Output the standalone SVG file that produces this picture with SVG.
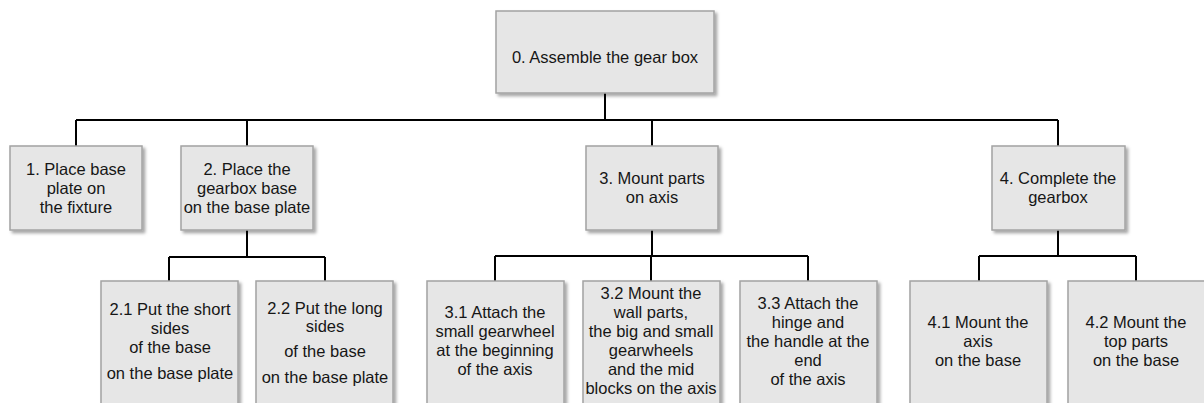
<svg xmlns="http://www.w3.org/2000/svg" width="1204" height="403" viewBox="0 0 1204 403">
  <defs>
    <filter id="shadow" x="-10%" y="-10%" width="130%" height="130%">
      <feDropShadow dx="2.5" dy="2.5" stdDeviation="1.5" flood-color="#000" flood-opacity="0.35"/>
    </filter>
    <style>
      .box { fill: #e6e6e6; stroke: #a3a3a3; stroke-width: 1.5; filter: url(#shadow); }
      .lbl { font-family: "Liberation Sans", Arial, sans-serif; font-size: 16.5px; fill: #161616; text-anchor: middle; }
      .wire { fill: none; stroke: #000; stroke-width: 2; }
    </style>
  </defs>
  <rect width="1204" height="403" fill="#fff"/>

  <!-- tree connectors -->
  <g id="connectors">
    <path class="wire" d="M605 93 V120 M76 120 H1058 M76 120 V146 M247 120 V146 M652 120 V146 M1058 120 V146"/>
    <path class="wire" d="M247 230 V257 M169 257 H325 M169 257 V281 M325 257 V281"/>
    <path class="wire" d="M652 230 V256 M495 256 H808 M495 256 V281 M651 256 V281 M808 256 V281"/>
    <path class="wire" d="M1058 230 V256 M979 256 H1136 M979 256 V281 M1136 256 V281"/>
  </g>

  <!-- root task -->
  <g id="n0">
    <rect class="box" x="496" y="11" width="218" height="82"/>
    <text class="lbl" x="605" y="63" font-size="16.3">0. Assemble the gear box</text>
  </g>

  <!-- level 1 -->
  <g id="n1">
    <rect class="box" x="10" y="146" width="132" height="84"/>
    <text class="lbl" x="76"><tspan x="76" y="175">1. Place base</tspan><tspan x="76" y="194">plate on</tspan><tspan x="76" y="213">the fixture</tspan></text>
  </g>
  <g id="n2">
    <rect class="box" x="181" y="146" width="132" height="84"/>
    <text class="lbl" x="247"><tspan x="247" y="175">2. Place the</tspan><tspan x="247" y="194">gearbox base</tspan><tspan x="247" y="213">on the base plate</tspan></text>
  </g>
  <g id="n3">
    <rect class="box" x="586" y="146" width="132" height="84"/>
    <text class="lbl" x="652"><tspan x="652" y="184">3. Mount parts</tspan><tspan x="652" y="203">on axis</tspan></text>
  </g>
  <g id="n4">
    <rect class="box" x="992" y="146" width="133" height="84"/>
    <text class="lbl" x="1058"><tspan x="1058" y="184">4. Complete the</tspan><tspan x="1058" y="203">gearbox</tspan></text>
  </g>

  <!-- level 2 -->
  <g id="n2_1">
    <rect class="box" x="101" y="281" width="137" height="130"/>
    <text class="lbl" x="170"><tspan x="170" y="315">2.1 Put the short</tspan><tspan x="170" y="334">sides</tspan><tspan x="170" y="353">of the base</tspan><tspan x="170" y="379">on the base plate</tspan></text>
  </g>
  <g id="n2_2">
    <rect class="box" x="256" y="281" width="137" height="130"/>
    <text class="lbl" x="325"><tspan x="325" y="314">2.2 Put the long</tspan><tspan x="325" y="332">sides</tspan><tspan x="325" y="357">of the base</tspan><tspan x="325" y="383">on the base plate</tspan></text>
  </g>
  <g id="n3_1">
    <rect class="box" x="427" y="281" width="137" height="130"/>
    <text class="lbl" x="495"><tspan x="495" y="318">3.1 Attach the</tspan><tspan x="495" y="337">small gearwheel</tspan><tspan x="495" y="356">at the beginning</tspan><tspan x="495" y="375">of the axis</tspan></text>
  </g>
  <g id="n3_2">
    <rect class="box" x="583" y="281" width="137" height="130"/>
    <text class="lbl" x="651"><tspan x="651" y="299">3.2 Mount the</tspan><tspan x="651" y="318">wall parts,</tspan><tspan x="651" y="337">the big and small</tspan><tspan x="651" y="356">gearwheels</tspan><tspan x="651" y="375">and the mid</tspan><tspan x="651" y="394">blocks on the axis</tspan></text>
  </g>
  <g id="n3_3">
    <rect class="box" x="740" y="281" width="137" height="130"/>
    <text class="lbl" x="808"><tspan x="808" y="309">3.3 Attach the</tspan><tspan x="808" y="328">hinge and</tspan><tspan x="808" y="347">the handle at the</tspan><tspan x="808" y="366">end</tspan><tspan x="808" y="385">of the axis</tspan></text>
  </g>
  <g id="n4_1">
    <rect class="box" x="910" y="281" width="137" height="130"/>
    <text class="lbl" x="978"><tspan x="978" y="328">4.1 Mount the</tspan><tspan x="978" y="347">axis</tspan><tspan x="978" y="366">on the base</tspan></text>
  </g>
  <g id="n4_2">
    <rect class="box" x="1068" y="281" width="137" height="130"/>
    <text class="lbl" x="1136"><tspan x="1136" y="328">4.2 Mount the</tspan><tspan x="1136" y="347">top parts</tspan><tspan x="1136" y="366">on the base</tspan></text>
  </g>
</svg>
